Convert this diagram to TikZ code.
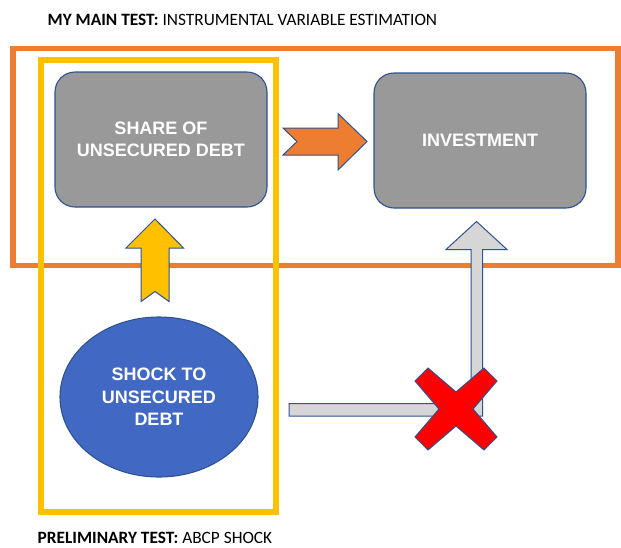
\documentclass[tikz,border=0pt]{standalone}
\usepackage{fontspec}
\setmainfont{Carlito}
\newfontfamily\labelfont{Liberation Sans}
\usetikzlibrary{shapes.geometric}
\definecolor{frameorange}{HTML}{ED7D31}
\definecolor{frameyellow}{HTML}{FFC000}
\definecolor{boxgray}{HTML}{999999}
\definecolor{arrowgray}{HTML}{D6D6D6}
\definecolor{shockblue}{HTML}{4169C4}
\definecolor{edgeblue}{HTML}{2F528F}
\definecolor{crossred}{HTML}{FF0000}
\tikzset{
  varbox/.style={draw=edgeblue, line width=1.1pt, fill=boxgray, rounded corners=20pt,
    minimum width=212pt, minimum height=135pt, align=center, text=white,
    font=\labelfont\fontsize{18}{22}\selectfont\bfseries},
  shockellipse/.style={ellipse, draw=edgeblue, line width=1.1pt, fill=shockblue,
    minimum width=198pt, minimum height=160pt, inner sep=0pt, align=center, text=white,
    font=\labelfont\fontsize{18}{22.5}\selectfont\bfseries},
  blockarrow/.style={draw=edgeblue, line width=1pt, line join=miter},
  frame/.style={line width=5.5pt},
  caption/.style={anchor=west, inner sep=0pt, font=\fontsize{17.3}{20}\selectfont}
}
\begin{document}
\begin{tikzpicture}[x=1pt,y=-1pt]
  \useasboundingbox (0,0) rectangle (621,547);
  \fill[white] (0,0) rectangle (621,547);

  % captions
  \node[caption] (maintitle) at (47.5,20) {\textbf{MY MAIN TEST:} INSTRUMENTAL VARIABLE ESTIMATION};
  \node[caption] (pretitle) at (37.5,537.5) {\textbf{PRELIMINARY TEST:} ABCP SHOCK};

  % variable boxes
  \node[varbox] (share) at (161,139.5) {SHARE OF\\UNSECURED DEBT};
  \node[varbox] (invest) at (480,140.5) {INVESTMENT};
  \node[shockellipse] (shock) at (159,397) {SHOCK TO\\UNSECURED\\DEBT};

  % grouping frames
  \draw[frame, draw=frameorange] (13,48.5) rectangle (618,265.5);
  \draw[frame, draw=frameyellow] (41,60) rectangle (276,512);

  % share -> investment (notched block arrow)
  \draw[blockarrow, fill=frameorange]
    (283,128) -- (338,128) -- (338,113.5) -- (367,141.5) -- (338,170)
    -- (338,155) -- (283,155) -- (297,141.5) -- cycle;

  % shock -> share (notched block arrow)
  \draw[blockarrow, fill=frameyellow]
    (141,301.5) -- (141,248) -- (126,248) -- (155,219) -- (183.5,248)
    -- (169,248) -- (169,301.5) -- (155,291.5) -- cycle;

  % shock -> investment (bent arrow, crossed out)
  \draw[blockarrow, fill=arrowgray]
    (289,403.5) -- (471,403.5) -- (471,249.5) -- (446,249.5) -- (476.5,221.5)
    -- (507,249.5) -- (482.5,249.5) -- (482.5,416) -- (289,416) -- cycle;

  \coordinate (nolink) at (456,409);
  \draw[blockarrow, fill=crossred, shift={(nolink)}]
    (-41,-28) -- (-28,-41) -- (0,-17) -- (28,-41) -- (41,-28) -- (17,0)
    -- (41,28) -- (28,41) -- (0,17) -- (-28,41) -- (-41,28) -- (-17,0) -- cycle;
\end{tikzpicture}
\end{document}
